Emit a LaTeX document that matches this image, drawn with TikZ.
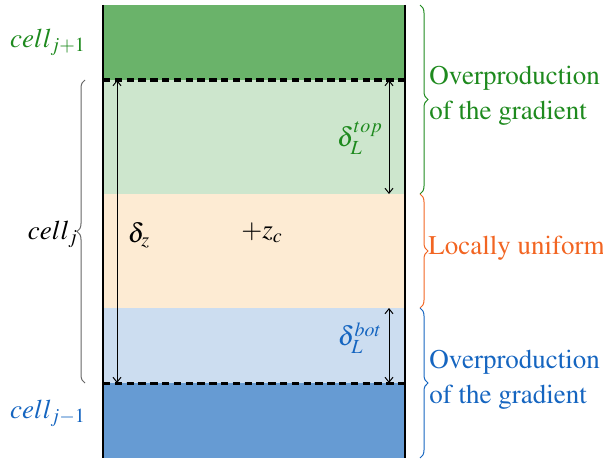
\documentclass[tikz,border=0pt]{standalone}
\usepackage[T1]{fontenc}
\usepackage{mathptmx}
\usetikzlibrary{decorations.pathreplacing,arrows.meta,calc}
\definecolor{dgreen}{RGB}{106,179,106}
\definecolor{lgreen}{RGB}{205,230,205}
\definecolor{lorange}{RGB}{253,235,211}
\definecolor{lblue}{RGB}{204,221,240}
\definecolor{dblue}{RGB}{102,155,211}
\definecolor{tgreen}{RGB}{30,138,30}
\definecolor{torange}{RGB}{242,101,34}
\definecolor{tblue}{RGB}{21,101,192}
\begin{document}
\begin{tikzpicture}[x=0.5pt,y=-0.5pt,
  band/.style={draw=none,minimum width=151pt,inner sep=0pt,outer sep=0pt,anchor=north west},
  txt/.style={font=\fontsize{13.5}{17.5}\selectfont,inner sep=0pt},
  brc/.style={decorate,decoration={brace,amplitude=4pt},line width=0.5pt},
  dim/.style={{Straight Barb[length=2.5pt,width=4pt]}-{Straight Barb[length=2.5pt,width=4pt]},line width=0.5pt},
  dashline/.style={line width=1.5pt,dash pattern=on 3.7pt off 2.2pt}]
\useasboundingbox (0,0) rectangle (603,460);
% bands
\node[band,fill=dgreen,minimum height=37.5pt] (b1) at (103,5) {};
\node[band,fill=lgreen,minimum height=57pt] (b2) at (103,80) {};
\node[band,fill=lorange,minimum height=57pt] (b3) at (103,194) {};
\node[band,fill=lblue,minimum height=37.5pt] (b4) at (103,308) {};
\node[band,fill=dblue,minimum height=37.5pt] (b5) at (103,383) {};
% side lines
\draw[line width=0.65pt] (b1.north west) -- (b5.south west);
\draw[line width=0.65pt] (b1.north east) -- (b5.south east);
% dashed lines
\draw[dashline] (b2.north west) -- (b2.north east);
\draw[dashline] (b5.north west) -- (b5.north east);
% arrows
\coordinate (ax1) at (117,0);
\coordinate (ax2) at (389,0);
\draw[dim] (b2.north -| ax1) -- (b4.south -| ax1);
\draw[dim] (b2.north -| ax2) -- (b2.south -| ax2);
\draw[dim] (b4.north -| ax2) -- (b4.south -| ax2);
% labels inside
\node[txt] (dz) at (139,235) {$\delta_z$};
\node[txt] (zc) at (262,233) {$+z_c$};
\node[txt,text=tgreen] (dtop) at (360,138) {$\delta_L^{top}$};
\node[txt,text=tblue] (dbot) at (360,338) {$\delta_L^{bot}$};
% left labels
\node[txt,text=tgreen] (c1) at (48,42) {$cell_{j+1}$};
\node[txt] (c0) at (53,234) {$cell_j$};
\node[txt,text=tblue] (c2) at (48,413) {$cell_{j-1}$};
% left brace
\draw[brc,draw=black!60] (85,383) -- (85,80);
% right braces
\draw[brc,draw=tgreen] (420,5) -- (420,194);
\draw[brc,draw=torange] (420,194) -- (420,308);
\draw[brc,draw=tblue] (420,308) -- (420,458);
% right texts
\node[txt,text=tgreen,align=left,anchor=west] (t1) at (429,96) {Overproduction\\of the gradient};
\node[txt,text=torange,anchor=west] (t2) at (428,248) {Locally uniform};
\node[txt,text=tblue,align=left,anchor=west] (t3) at (429,380) {Overproduction\\of the gradient};
\end{tikzpicture}
\end{document}
